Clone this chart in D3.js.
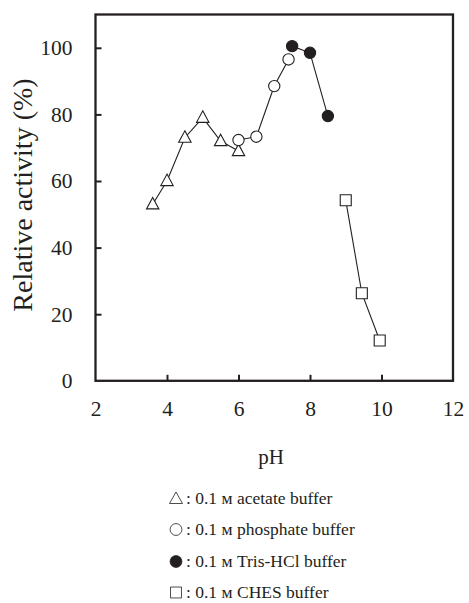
<!DOCTYPE html>
<html><head><meta charset="utf-8">
<script src="https://cdn.jsdelivr.net/npm/d3@7"></script>
<style>body{margin:0;background:#fff}svg{display:block}text{font-family:"Liberation Serif","Times New Roman",serif;fill:#231f20}</style>
</head><body>
<svg id="c" width="469" height="603"></svg>
<script>
const acetatePH = [3.6, 4.0, 4.5, 5.0, 5.5, 6.0];
const acetateAct = [53, 60, 73, 79, 72, 69];
const phosphatePH = [6.0, 6.5, 7.0, 7.4];
const phosphateAct = [72.3, 73.3, 88.5, 96.5];
const trisPH = [7.5, 8.0, 8.5];
const trisAct = [100.5, 98.5, 79.5];
const chesPH = [9.0, 9.45, 9.95];
const chesAct = [54.2, 26.3, 12.1];
const xTicks = [2, 4, 6, 8, 10, 12];
const yTicks = [0, 20, 40, 60, 80, 100];
const legendLabels = ["acetate buffer", "phosphate buffer", "Tris-HCl buffer", "CHES buffer"];

const svg = d3.select("#c");
const L = 95.5, R = 453, T = 14.5, B = 380.8;
const x = d3.scaleLinear().domain([2, 12]).range([L, R]);
const y = d3.scaleLinear().domain([0, 110]).range([B, T]);
const ink = "#231f20";
const serif = '"Liberation Serif","Times New Roman",serif';

// axes with inward ticks
const xa = svg.append("g").attr("transform", `translate(0,${B})`)
  .call(d3.axisBottom(x).tickValues(xTicks).tickSizeInner(-6).tickSizeOuter(0).tickPadding(20).tickFormat(d3.format("d")));
const ya = svg.append("g").attr("transform", `translate(${L},0)`)
  .call(d3.axisLeft(y).tickValues(yTicks).tickSizeInner(-6).tickSizeOuter(0).tickPadding(23).tickFormat(d3.format("d")));
[xa, ya].forEach(g => {
  g.attr("font-family", null).attr("font-size", null);
  g.select(".domain").remove();
  g.selectAll(".tick line").attr("stroke", ink).attr("stroke-width", 2);
  g.selectAll(".tick text").style("font-size", "21.5px").style("font-family", serif).attr("fill", ink);
});
xa.selectAll(".tick").filter(d => d === 2 || d === 12).select("line").remove();
ya.selectAll(".tick").filter(d => d === 0).select("line").remove();

// frame
svg.append("rect").attr("x", L).attr("y", T).attr("width", R - L).attr("height", B - T)
  .attr("fill", "none").attr("stroke", ink).attr("stroke-width", 2.3);

// axis titles
svg.append("text").attr("transform", `translate(32,195) rotate(-90)`).attr("text-anchor", "middle")
  .style("font-size", "28px").text("Relative activity (%)");
svg.append("text").attr("x", 271).attr("y", 464).attr("text-anchor", "middle").style("font-size", "21px").text("pH");

const tri = {draw(ctx, size) { const w = 6.2, h = 11.5; ctx.moveTo(0, -h * 0.6); ctx.lineTo(w, h * 0.4); ctx.lineTo(-w, h * 0.4); ctx.closePath(); }};
const series = [
  {px: acetatePH, py: acetateAct, type: tri, size: 1, fill: "#fff"},
  {px: phosphatePH, py: phosphateAct, type: d3.symbolCircle, size: 100, fill: "#fff"},
  {px: trisPH, py: trisAct, type: d3.symbolCircle, size: 100, fill: ink},
  {px: chesPH, py: chesAct, type: d3.symbolSquare, size: 121, fill: "#fff"}
];
const line = d3.line().x(d => x(d[0])).y(d => y(d[1]));
series.forEach(s => {
  const pts = s.px.map((v, i) => [v, s.py[i]]);
  svg.append("path").attr("d", line(pts)).attr("fill", "none").attr("stroke", ink).attr("stroke-width", 1.1);
});
series.forEach(s => {
  const pts = s.px.map((v, i) => [v, s.py[i]]);
  svg.append("g").selectAll("path").data(pts).join("path")
    .attr("d", d3.symbol().type(s.type).size(s.size))
    .attr("transform", d => `translate(${x(d[0])},${y(d[1])})`)
    .attr("fill", s.fill).attr("stroke", ink).attr("stroke-width", 1.1);
});

// legend
const lg = svg.append("g");
const legendY = [504, 535, 567, 598];
const legSym = [
  {draw(ctx) { ctx.moveTo(0, -6.5); ctx.lineTo(6.5, 5); ctx.lineTo(-6.5, 5); ctx.closePath(); }},
  d3.symbolCircle, d3.symbolCircle, d3.symbolSquare
];
const legSize = [1, 110, 110, 120];
series.forEach((s, i) => {
  lg.append("path").attr("d", d3.symbol().type(legSym[i]).size(legSize[i]))
    .attr("transform", `translate(176,${legendY[i] - 5.5})`)
    .attr("fill", s.fill).attr("stroke", ink).attr("stroke-width", 0.8);
  const t = lg.append("text").attr("x", 186).attr("y", legendY[i]).style("font-size", "17.5px");
  t.append("tspan").text(": 0.1 ");
  t.append("tspan").text("м");
  t.append("tspan").text(" " + legendLabels[i]);
});
</script>
</body></html>
